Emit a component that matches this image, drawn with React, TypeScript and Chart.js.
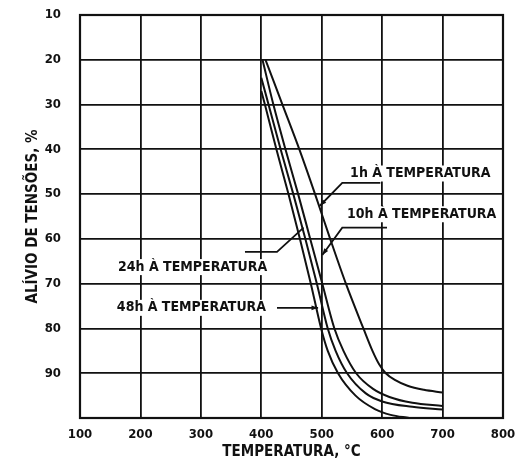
import React, { useEffect, useRef } from "react";
import { Chart, registerables } from "chart.js";

Chart.register(...registerables);

// ---- data (temperature °C, stress relief %) ----
const xTickValues = [100, 200, 300, 400, 500, 600, 700, 800];
const yTickValues = [10, 20, 30, 40, 50, 60, 70, 80, 90, 100];

const temp1h = [407, 435, 463, 489, 514, 540, 569, 584, 595, 606, 621, 642, 669, 700];
const relief1h = [20, 30, 40, 50, 60, 70, 80, 85, 88, 90, 91.5, 92.8, 93.7, 94.3];

const temp10h = [402, 420, 440, 461, 481, 501, 521, 536, 557, 585, 612, 650, 700];
const relief10h = [20, 30, 40, 50, 60, 70, 80, 85, 90, 93.5, 95.3, 96.6, 97.3];

const temp24h = [400, 412, 432, 453, 473, 492, 510, 523, 542, 573, 600, 650, 700];
const relief24h = [24, 30, 40, 50, 60, 70, 80, 85, 90, 94.5, 96.3, 97.5, 98.1];

const temp48h = [400, 406, 425, 445, 464, 482, 499, 510, 527, 556, 588, 614, 645];
const relief48h = [27, 30, 40, 50, 60, 70, 80, 85, 90, 95, 98, 99.3, 100];

const seriesNames = ["1h", "10h", "24h", "48h"];
const labelTexts = [
  "1h À TEMPERATURA",
  "10h À TEMPERATURA",
  "24h À TEMPERATURA",
  "48h À TEMPERATURA",
];

const FONT = '"DejaVu Sans Condensed", "DejaVu Sans", sans-serif';
const INK = "#111";

// annotation anchors in data units (temperature, %)
const notes = [
  { text: labelTexts[0], at: [547, 45.4], path: [[597, 47.5], [534, 47.5], [497, 52.6]], arrow: true },
  { text: labelTexts[1], at: [542, 54.5], path: [[608, 57.5], [534, 57.5], [501, 63.6]], arrow: true },
  { text: labelTexts[2], at: [163, 66.3], path: [[373, 62.9], [426, 62.9], [470, 57.5]], arrow: false },
  { text: labelTexts[3], at: [161, 75.4], path: [[426, 75.4], [494, 75.4]], arrow: true },
];

const zip = (xs: number[], ys: number[]) => xs.map((x, i) => ({ x, y: ys[i] }));

const framePlugin = {
  id: "frame",
  afterDatasetsDraw(chart: any) {
    const { ctx, chartArea: a } = chart;
    ctx.save();
    ctx.strokeStyle = INK;
    ctx.lineWidth = 2.2;
    ctx.strokeRect(a.left, a.top, a.right - a.left, a.bottom - a.top);
    ctx.restore();
  },
};

const annotatePlugin = {
  id: "annotate",
  afterDraw(chart: any) {
    const { ctx } = chart;
    const xs = chart.scales.x;
    const ys = chart.scales.y;
    ctx.save();
    ctx.font = `bold 14px ${FONT}`;
    ctx.textBaseline = "middle";
    ctx.textAlign = "left";
    notes.forEach((n) => {
      const px = xs.getPixelForValue(n.at[0]);
      const py = ys.getPixelForValue(n.at[1]);
      const w = ctx.measureText(n.text).width;
      ctx.fillStyle = "#fff";
      ctx.fillRect(px - 2, py - 8, w + 4, 16);
      ctx.fillStyle = INK;
      ctx.fillText(n.text, px, py);
      const pts = n.path.map((p) => [xs.getPixelForValue(p[0]), ys.getPixelForValue(p[1])]);
      ctx.strokeStyle = INK;
      ctx.lineWidth = 1.8;
      ctx.beginPath();
      pts.forEach((p, i) => (i ? ctx.lineTo(p[0], p[1]) : ctx.moveTo(p[0], p[1])));
      ctx.stroke();
      if (n.arrow) {
        const [x1, y1] = pts[pts.length - 2];
        const [x2, y2] = pts[pts.length - 1];
        const ang = Math.atan2(y2 - y1, x2 - x1);
        const L = 7;
        ctx.beginPath();
        ctx.moveTo(x2, y2);
        ctx.lineTo(x2 - L * Math.cos(ang - 0.35), y2 - L * Math.sin(ang - 0.35));
        ctx.lineTo(x2 - L * Math.cos(ang + 0.35), y2 - L * Math.sin(ang + 0.35));
        ctx.closePath();
        ctx.fillStyle = INK;
        ctx.fill();
      }
    });
    ctx.restore();
  },
};

export default function App() {
  const ref = useRef<HTMLCanvasElement | null>(null);

  useEffect(() => {
    if (!ref.current) return;
    const series = [
      zip(temp1h, relief1h),
      zip(temp10h, relief10h),
      zip(temp24h, relief24h),
      zip(temp48h, relief48h),
    ];
    const chart = new Chart(ref.current, {
      type: "line",
      data: {
        datasets: series.map((d, i) => ({
          label: seriesNames[i],
          data: d,
          borderColor: INK,
          borderWidth: 2,
          pointRadius: 0,
          fill: false,
          cubicInterpolationMode: "monotone" as const,
        })),
      },
      options: {
        animation: false,
        responsive: true,
        maintainAspectRatio: false,
        layout: { padding: { left: 0, right: 29, top: 15, bottom: 0 } },
        plugins: { legend: { display: false }, tooltip: { enabled: false } },
        scales: {
          x: {
            type: "linear",
            min: 100,
            max: 800,
            afterBuildTicks: (s: any) => {
              s.ticks = xTickValues.map((v) => ({ value: v }));
            },
            afterFit: (s: any) => {
              s.height = 47;
            },
            grid: { color: INK, lineWidth: 1.8, drawTicks: false },
            border: { display: false },
            ticks: {
              color: INK,
              padding: 9,
              font: { family: FONT, size: 13, weight: "bold" },
              maxRotation: 0,
              autoSkip: false,
            },
            title: {
              display: true,
              text: "TEMPERATURA, °C",
              color: INK,
              font: { family: FONT, size: 15, weight: "bold" },
              padding: { top: 0, bottom: 4 },
            },
          },
          y: {
            type: "linear",
            min: 10,
            max: 100,
            reverse: true,
            afterBuildTicks: (s: any) => {
              s.ticks = yTickValues.map((v) => ({ value: v }));
            },
            afterFit: (s: any) => {
              s.width = 80;
              s.paddingTop = 0;
              s.paddingBottom = 0;
            },
            grid: { color: INK, lineWidth: 1.8, drawTicks: false },
            border: { display: false },
            ticks: {
              color: INK,
              padding: 19,
              font: { family: FONT, size: 13, weight: "bold" },
              autoSkip: false,
              callback: (v: any) => (v === 100 ? "" : String(v)),
            },
            title: {
              display: true,
              text: "ALÍVIO DE TENSÕES, %",
              color: INK,
              font: { family: FONT, size: 15, weight: "bold" },
              padding: { top: 24, bottom: 0 },
            },
          },
        },
      },
      plugins: [framePlugin, annotatePlugin],
    });
    return () => chart.destroy();
  }, []);

  return (
    <div style={{ position: "absolute", left: 0, top: 0, width: 532, height: 465, background: "#fff" }}>
      <canvas ref={ref} />
    </div>
  );
}
